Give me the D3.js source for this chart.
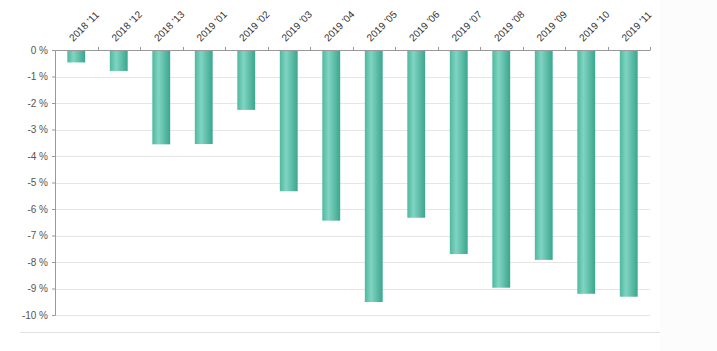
<!DOCTYPE html>
<html>
<head>
<meta charset="utf-8">
<script src="https://cdn.jsdelivr.net/npm/d3@7"></script>
<style>
  html, body { margin: 0; padding: 0; background: #fcfcfc; }
  svg { display: block; }
  text { font-family: "Liberation Sans", Arial, sans-serif; }
</style>
</head>
<body>
<svg id="chart" width="717" height="351"></svg>
<script>
const categories = ["2018 '11","2018 '12","2018 '13","2019 '01","2019 '02","2019 '03","2019 '04","2019 '05","2019 '06","2019 '07","2019 '08","2019 '09","2019 '10","2019 '11"];
const values = [-0.47, -0.79, -3.56, -3.55, -2.26, -5.33, -6.44, -9.51, -6.33, -7.70, -8.97, -7.92, -9.20, -9.31];
const yTicks = [0, -1, -2, -3, -4, -5, -6, -7, -8, -9, -10];

(function () {
const svg = d3.select("#chart");
const mLeft = 55, mRight = 650, mTop = 50, mBottom = 315;

svg.append("rect").attr("x", 0).attr("y", 0).attr("width", 660).attr("height", 351).attr("fill", "#ffffff");

const defs = svg.append("defs");
const grad = defs.append("linearGradient").attr("id", "barGrad").attr("x1", "0%").attr("x2", "100%").attr("y1", "0%").attr("y2", "0%");
grad.append("stop").attr("offset", "0%").attr("stop-color", "#4fb89f");
grad.append("stop").attr("offset", "35%").attr("stop-color", "#80d4c2");
grad.append("stop").attr("offset", "100%").attr("stop-color", "#3aa68d");

const x = d3.scaleBand().domain(categories).range([mLeft, mRight]).paddingInner(0.58).paddingOuter(0.29);
const xEdges = d3.scaleBand().domain(categories).range([mLeft, mRight]);
const y = d3.scaleLinear().domain([0, -10]).range([mTop, mBottom]);

// gridlines
svg.append("g").selectAll("line").data(yTicks.filter(d => d !== 0)).join("line")
  .attr("x1", mLeft).attr("x2", mRight)
  .attr("y1", d => Math.round(y(d)) + 0.5).attr("y2", d => Math.round(y(d)) + 0.5)
  .attr("stroke", "#e6e6e6").attr("stroke-width", 1);

// bottom separator
svg.append("line").attr("x1", 20).attr("x2", 660).attr("y1", 332.5).attr("y2", 332.5)
  .attr("stroke", "#e2e2e2").attr("stroke-width", 1);

// bars
svg.append("g").selectAll("rect").data(values).join("rect")
  .attr("x", (d, i) => x(categories[i]))
  .attr("width", x.bandwidth())
  .attr("y", y(0))
  .attr("height", d => y(d) - y(0))
  .attr("fill", "url(#barGrad)");

// y axis
const yAxis = d3.axisLeft(y).tickValues(yTicks).tickSize(3).tickPadding(4).tickFormat(d => d + " %");
const yg = svg.append("g").attr("transform", `translate(${mLeft},0)`).call(yAxis);
yg.select(".domain").attr("stroke", "#999");
yg.selectAll(".tick line").attr("stroke", "#999");
yg.selectAll(".tick text").attr("fill", "#555").attr("font-size", 10);

// top x axis
const xAxis = d3.axisTop(xEdges).tickSize(0).tickFormat("");
const xg = svg.append("g").attr("transform", `translate(0,${mTop})`).call(xAxis);
xg.select(".domain").attr("stroke", "#999");
xg.selectAll(".tick").remove();
svg.append("g").selectAll("line").data(categories).join("line")
  .attr("x1", d => Math.round(xEdges(d) + xEdges.bandwidth()) + 0.5)
  .attr("x2", d => Math.round(xEdges(d) + xEdges.bandwidth()) + 0.5)
  .attr("y1", mTop).attr("y2", mTop - 3)
  .attr("stroke", "#999");

// x labels
svg.append("g").selectAll("text").data(categories).join("text")
  .attr("transform", d => `translate(${x(d) + x.bandwidth() / 2 - 3},${mTop - 8}) rotate(-45)`)
  .attr("text-anchor", "start")
  .attr("font-size", 10)
  .attr("fill", "#333")
  .text(d => d);
})();
</script>
</body>
</html>
